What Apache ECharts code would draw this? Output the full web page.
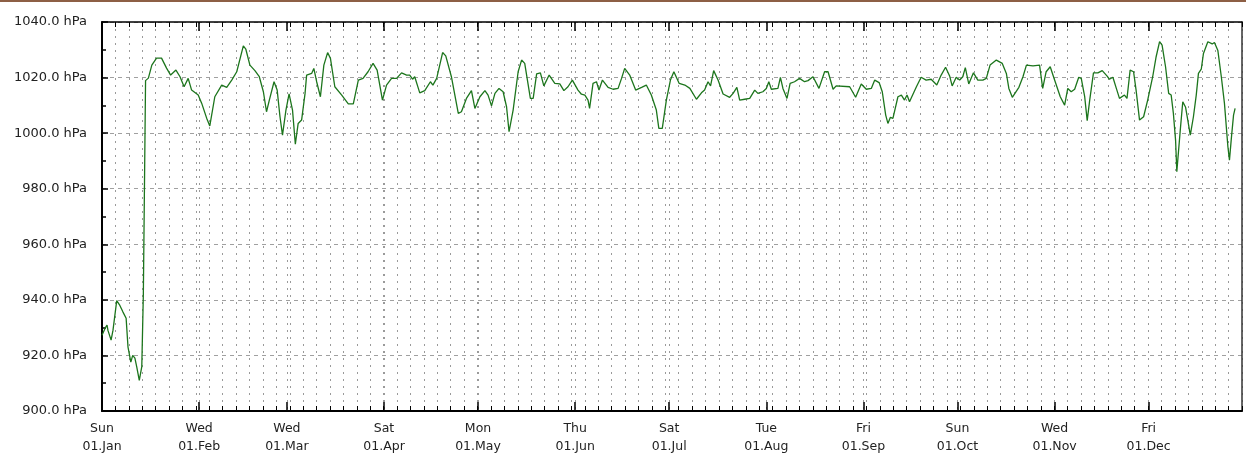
<!DOCTYPE html>
<html>
<head>
<meta charset="utf-8">
<script src="https://cdn.jsdelivr.net/npm/echarts@6/dist/echarts.min.js"></script>
<style>
html,body{margin:0;padding:0;background:#fff;}
#chart{width:1246px;height:456px;}
</style>
</head>
<body>
<div id="chart"></div>
<script>
// Day offset from 01 Jan (day 0) for each sample
const days = [
0, 1.0, 1.6, 1.9, 2.9, 3.5, 4.7, 5.7, 6.7, 7.7,
8.3, 9.2, 9.8, 10.5, 11.1, 11.9, 12.7, 13.2, 13.9, 14.8,
15.9, 17.4, 19.0, 20.6, 21.9, 23.6, 24.9, 26.2, 27.5, 28.6,
30.7, 31.8, 33.4, 34.4, 36.0, 38.2, 39.8, 41.4, 43.0, 45.1,
45.9, 47.2, 48.8, 50.2, 51.5, 52.5, 53.4, 54.9, 55.9, 56.8,
57.6, 58.7, 59.7, 60.8, 61.7, 62.6, 63.7, 64.8, 65.3, 66.9,
67.6, 68.5, 69.7, 70.8, 72.0, 72.9, 74.3, 76.5, 78.6, 80.2,
81.8, 83.3, 84.9, 86.5, 87.8, 89.5, 90.8, 92.4, 94.0, 95.6,
97.2, 98.2, 99.1, 99.8, 101.4, 103.0, 104.8, 105.6, 106.8, 108.7,
109.7, 111.5, 113.7, 114.7, 116.3, 117.9, 119.0, 120.6, 122.2, 123.2,
124.3, 125.4, 126.7, 128.0, 129.1, 129.9, 131.2, 132.8, 133.9, 134.9,
136.7, 137.6, 138.7, 139.9, 141.0, 142.7, 144.5, 146.1, 147.4, 148.7,
150.1, 151.9, 153.0, 154.1, 155.1, 155.6, 156.7, 157.8, 158.6, 159.7,
161.5, 163.1, 164.7, 165.8, 166.8, 168.4, 170.3, 172.2, 173.7, 175.3,
176.9, 177.7, 178.8, 180.1, 181.4, 182.5, 184.2, 186.0, 187.6, 189.7,
191.3, 192.3, 193.4, 194.2, 195.2, 196.6, 198.2, 200.3, 201.4, 202.6,
203.5, 205.1, 206.7, 208.3, 209.3, 210.9, 212.0, 212.8, 213.6, 215.7,
216.5, 217.3, 218.6, 219.6, 221.0, 222.6, 224.2, 225.3, 226.9, 228.8,
230.6, 231.7, 233.3, 234.3, 238.6, 240.5, 242.3, 243.9, 245.5, 246.6,
248.0, 249.0, 250.1, 250.8, 251.6, 252.4, 254.0, 255.1, 256.1, 256.9,
257.7, 259.9, 261.4, 263.0, 264.6, 266.4, 267.8, 269.2, 270.5, 271.3,
272.6, 273.7, 274.7, 275.5, 276.6, 278.1, 279.5, 281.1, 282.2, 283.4,
285.4, 287.3, 288.6, 289.4, 290.5, 292.6, 293.9, 295.0, 297.1, 299.2,
300.2, 301.3, 302.6, 304.0, 305.8, 307.2, 308.2, 309.3, 310.4, 311.7,
312.5, 313.6, 314.4, 315.2, 316.4, 317.8, 319.2, 320.7, 321.5, 322.6,
323.7, 324.7, 326.3, 327.1, 328.1, 329.2, 330.0, 331.1, 332.4, 333.7,
335.3, 336.4, 337.5, 338.3, 339.4, 340.4, 341.2, 341.9, 342.6, 343.0,
344.1, 344.9, 345.8, 346.5, 347.3, 348.3, 349.2, 349.9, 350.8, 351.5,
352.9, 354.3, 355.0, 356.1, 357.2, 358.2, 359.3, 359.8, 360.4, 361.1,
361.6
];

// Air pressure, hPa
const pressure = [
927.3, 929.8, 930.9, 929.0, 925.5, 929.0, 939.7, 938.0, 935.6, 933.4,
923.0, 917.6, 920.0, 919.0, 915.8, 911.0, 916.0, 942.4, 1018.9, 1019.8,
1024.5, 1027.0, 1027.0, 1023.4, 1020.9, 1022.7, 1020.3, 1016.7, 1019.7, 1015.5,
1013.7, 1010.8, 1005.4, 1002.6, 1013.1, 1017.3, 1016.5, 1019.1, 1022.1, 1031.4,
1030.2, 1024.5, 1022.5, 1020.3, 1014.9, 1007.7, 1011.9, 1018.5, 1015.5, 1005.9,
999.3, 1008.3, 1014.1, 1008.3, 996.0, 1003.5, 1004.7, 1014.3, 1020.9, 1021.5,
1023.3, 1018.5, 1013.1, 1024.5, 1029.0, 1026.9, 1016.7, 1013.7, 1010.5, 1010.5,
1019.1, 1019.7, 1022.1, 1025.1, 1022.7, 1011.9, 1017.3, 1019.7, 1019.7, 1021.7,
1020.9, 1020.9, 1019.4, 1020.3, 1014.5, 1015.3, 1018.5, 1017.3, 1019.7, 1029.0,
1027.8, 1020.3, 1007.1, 1007.7, 1012.5, 1015.3, 1008.9, 1013.1, 1015.3, 1013.7,
1009.8, 1014.3, 1016.1, 1014.9, 1009.5, 1000.5, 1008.3, 1022.1, 1026.3, 1025.1,
1012.5, 1012.5, 1021.3, 1021.7, 1017.0, 1020.9, 1017.9, 1017.7, 1015.3, 1016.7,
1019.1, 1015.5, 1014.0, 1013.7, 1011.9, 1008.9, 1017.9, 1018.5, 1015.5, 1019.1,
1016.5, 1015.8, 1016.1, 1019.7, 1023.3, 1020.9, 1015.5, 1016.5, 1017.3, 1013.7,
1008.3, 1001.7, 1001.7, 1011.9, 1019.1, 1022.1, 1017.9, 1017.3, 1016.1, 1012.2,
1014.5, 1015.5, 1018.5, 1017.0, 1022.5, 1019.1, 1014.1, 1012.9, 1014.3, 1016.5,
1011.9, 1012.2, 1012.5, 1015.5, 1014.3, 1014.9, 1016.1, 1018.5, 1015.8, 1016.1,
1020.1, 1016.1, 1012.5, 1017.9, 1018.5, 1019.7, 1018.5, 1018.9, 1020.3, 1016.1,
1022.1, 1022.1, 1015.8, 1017.0, 1016.7, 1012.9, 1017.7, 1015.8, 1016.1, 1019.1,
1018.2, 1014.9, 1006.5, 1003.5, 1005.7, 1005.3, 1013.1, 1013.7, 1011.9, 1013.7,
1011.3, 1016.7, 1020.1, 1019.1, 1019.4, 1017.3, 1020.9, 1023.7, 1020.6, 1017.0,
1020.1, 1019.1, 1020.3, 1023.6, 1017.7, 1021.7, 1019.1, 1019.1, 1019.7, 1024.5,
1026.3, 1025.1, 1021.5, 1016.1, 1012.9, 1016.5, 1020.3, 1024.5, 1024.2, 1024.5,
1016.1, 1022.1, 1023.9, 1019.1, 1013.1, 1010.1, 1016.1, 1014.9, 1015.8, 1020.1,
1019.7, 1013.1, 1004.5, 1011.9, 1021.7, 1021.7, 1022.5, 1020.6, 1019.4, 1020.1,
1016.1, 1012.5, 1013.7, 1012.5, 1022.7, 1022.1, 1015.5, 1004.7, 1005.9, 1011.9,
1020.3, 1027.5, 1032.9, 1031.7, 1023.9, 1014.3, 1013.7, 1007.1, 997.5, 986.1,
1001.1, 1011.3, 1009.3, 1004.7, 999.3, 1005.9, 1013.7, 1021.5, 1023.0, 1028.7,
1032.9, 1032.1, 1032.6, 1029.7, 1020.3, 1010.7, 995.1, 990.3, 998.1, 1006.5,
1008.9
];

// Month starts (day offsets) and their labels
const monthDays = [0, 31, 59, 90, 120, 151, 181, 212, 243, 273, 304, 334];
const monthWeekdays = ['Sun', 'Wed', 'Wed', 'Sat', 'Mon', 'Thu', 'Sat', 'Tue', 'Fri', 'Sun', 'Wed', 'Fri'];
const monthNames = ['01.Jan', '01.Feb', '01.Mar', '01.Apr', '01.May', '01.Jun', '01.Jul', '01.Aug', '01.Sep', '01.Oct', '01.Nov', '01.Dec'];

const xStep = 4.28;
const xMax = 85 * xStep;
const yMin = 900, yMax = 1040, yStep = 20;

const FONT = 'DejaVu Sans';
const dotted = { color: '#9a9a9a', width: 1, type: [2, 5] };

const chart = echarts.init(document.getElementById('chart'), null, { renderer: 'canvas' });

function monthLabel(v) {
  const i = monthDays.indexOf(Math.round(v));
  if (i < 0) return '';
  return monthWeekdays[i] + '\n' + monthNames[i];
}

chart.setOption({
  animation: false,
  backgroundColor: '#ffffff',
  graphic: [{
    type: 'rect', left: 0, top: 0, z: 10,
    shape: { width: 1246, height: 2 },
    style: { fill: '#8d5f45' }
  }],
  grid: { left: 102, right: 4, top: 22, bottom: 45, containLabel: false },
  xAxis: [
    {
      type: 'value', min: 0, max: xMax, interval: xStep, position: 'bottom',
      axisLine: { onZero: false, lineStyle: { color: '#000', width: 2 } },
      axisTick: { inside: true, length: 5, lineStyle: { color: '#000', width: 1 } },
      axisLabel: { show: false },
      splitLine: { show: true, lineStyle: dotted }
    },
    {
      type: 'value', min: 0, max: xMax, position: 'bottom',
      axisLine: { show: false, onZero: false },
      axisTick: { show: true, inside: true, length: 9, customValues: monthDays, lineStyle: { color: '#000', width: 1.5 } },
      axisLabel: {
        show: true, customValues: monthDays, formatter: monthLabel,
        fontFamily: FONT, fontSize: 12.5, lineHeight: 18, color: '#222', margin: 9,
        hideOverlap: false, showMinLabel: true
      },
      splitLine: { show: true, lineStyle: dotted }
    },
    {
      type: 'value', min: 0, max: xMax, interval: xStep, position: 'top',
      axisLine: { onZero: false, lineStyle: { color: '#000', width: 1.5 } },
      axisTick: { inside: true, length: 5, lineStyle: { color: '#000', width: 1 } },
      axisLabel: { show: false },
      splitLine: { show: false }
    },
    {
      type: 'value', min: 0, max: xMax, position: 'top',
      axisLine: { show: false, onZero: false },
      axisTick: { show: true, inside: true, length: 9, customValues: monthDays, lineStyle: { color: '#000', width: 1.5 } },
      axisLabel: { show: false },
      splitLine: { show: false }
    }
  ],
  yAxis: [
    {
      type: 'value', min: yMin, max: yMax, interval: yStep, position: 'left',
      axisLine: { show: true, onZero: false, lineStyle: { color: '#000', width: 2 } },
      axisTick: { show: true, inside: true, length: 6, lineStyle: { color: '#000', width: 1.5 } },
      minorTick: { show: true, splitNumber: 2, length: 4, lineStyle: { color: '#000', width: 1.5 } },
      axisLabel: {
        formatter: function (v) { return v.toFixed(1) + ' hPa'; },
        fontFamily: FONT, fontSize: 13, color: '#222', margin: 15
      },
      splitLine: { show: true, lineStyle: { color: '#a0a0a0', width: 1, type: [4, 4] } }
    },
    {
      type: 'value', min: yMin, max: yMax, position: 'right',
      axisLine: { show: true, onZero: false, lineStyle: { color: '#333', width: 1.5 } },
      axisTick: { show: false },
      axisLabel: { show: false },
      splitLine: { show: false }
    }
  ],
  series: [{
    type: 'line',
    xAxisIndex: 0, yAxisIndex: 0,
    data: days.map(function (d, i) { return [d, pressure[i]]; }),
    showSymbol: false,
    symbol: 'none',
    lineStyle: { color: '#1c751c', width: 1.3 },
    z: 5
  }]
});
</script>
</body>
</html>
